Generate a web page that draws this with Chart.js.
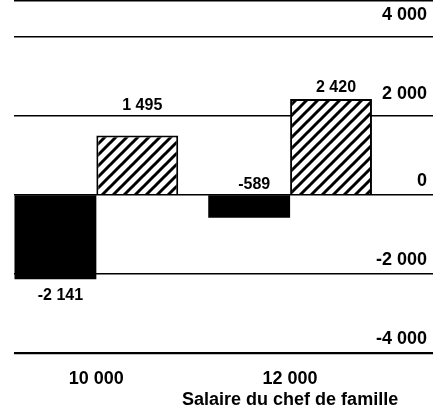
<!DOCTYPE html>
<html>
<head>
<meta charset="utf-8">
<script src="https://cdn.jsdelivr.net/npm/chart.js@4"></script>
<style>
  html, body { margin: 0; padding: 0; background: #fff; }
  #wrap { width: 440px; height: 417px; }
</style>
</head>
<body>
<div id="wrap"><canvas id="chart"></canvas></div>
<script>
// Data
const salaries = [10000, 12000];
const categories = ['10 000', '12 000'];
const axisTitle = 'Salaire du chef de famille';
const solidValues = [-2141, -589];
const hatchedValues = [1495, 2420];
const yTicks = [-4000, -2000, 0, 2000, 4000];
const yMin = -4000, yMax = 4900;

const FAMILY = "'Liberation Sans', Arial, sans-serif";

function fmt(n) {
    const s = Math.abs(n).toString().replace(/\B(?=(\d{3})+(?!\d))/g, ' ');
    return (n < 0 ? '-' : '') + s;
}

// diagonal "/" hatching
function hatchPattern() {
    const s = 11;
    const c = document.createElement('canvas');
    c.width = s; c.height = s;
    const g = c.getContext('2d');
    g.fillStyle = '#fff';
    g.fillRect(0, 0, s, s);
    g.strokeStyle = '#000';
    g.lineWidth = 3;
    g.beginPath();
    g.moveTo(-s / 2, s / 2); g.lineTo(s / 2, -s / 2);
    g.moveTo(0, s); g.lineTo(s, 0);
    g.moveTo(s / 2, s * 1.5); g.lineTo(s * 1.5, s / 2);
    g.stroke();
    return g.createPattern(c, 'repeat');
}

// y labels sit above their grid line, inside the plot
const yLabels = {
    id: 'yLabels',
    afterDraw(chart) {
        const { ctx, chartArea, scales: { y } } = chart;
        ctx.save();
        ctx.font = 'bold 18px ' + FAMILY;
        ctx.fillStyle = '#000';
        ctx.textAlign = 'right';
        ctx.textBaseline = 'middle';
        yTicks.forEach(v => {
            const off = v > 0 ? 22 : 14;
            ctx.fillText(fmt(v), chartArea.right - 6, y.getPixelForValue(v) - off);
        });
        ctx.restore();
    }
};

// value labels on the bars
const valueLabels = {
    id: 'valueLabels',
    afterDatasetsDraw(chart) {
        const { ctx, scales: { y } } = chart;
        ctx.save();
        ctx.font = 'bold 16px ' + FAMILY;
        ctx.fillStyle = '#000';
        ctx.textAlign = 'center';
        ctx.textBaseline = 'middle';
        chart.data.datasets.forEach((ds, i) => {
            chart.getDatasetMeta(i).data.forEach((bar, j) => {
                const v = ds.data[j].y;
                const top = Math.min(bar.y, bar.base);
                const bottom = Math.max(bar.y, bar.base);
                let ly;
                if (v < -1000) {
                    ly = bottom + 16;
                } else {
                    ly = top - 11;
                    yTicks.forEach(t => {
                        const gp = y.getPixelForValue(t);
                        if (gp < top && top - gp < 25) ly = gp - 10;
                    });
                }
                ctx.fillText(fmt(v), bar.x + 5, ly);
            });
        });
        ctx.restore();
    }
};

const ctx = document.getElementById('chart').getContext('2d');

new Chart(ctx, {
    type: 'bar',
    data: {
        datasets: [
            {
                data: salaries.map((x, i) => ({ x: x, y: solidValues[i] })),
                backgroundColor: '#000',
                borderWidth: 0
            },
            {
                data: salaries.map((x, i) => ({ x: x, y: hatchedValues[i] })),
                backgroundColor: hatchPattern(),
                borderColor: '#000',
                borderWidth: 2
            }
        ]
    },
    options: {
        responsive: true,
        maintainAspectRatio: false,
        animation: false,
        categoryPercentage: 0.845,
        barPercentage: 1,
        layout: { padding: { left: 14, right: 7, top: 1, bottom: -9 } },
        plugins: { legend: { display: false }, tooltip: { enabled: false } },
        scales: {
            x: {
                type: 'linear',
                offset: false,
                min: 9150,
                max: 13475,
                grid: { display: false, drawTicks: false },
                border: { display: false },
                afterBuildTicks: s => { s.ticks = salaries.map(v => ({ value: v })); },
                ticks: {
                    padding: 16,
                    color: '#000',
                    autoSkip: false,
                    maxRotation: 0,
                    font: { family: FAMILY, size: 18, weight: 'bold', lineHeight: 1.15 },
                    callback: v => {
                        const i = salaries.indexOf(v);
                        return i === salaries.length - 1 ? [categories[i], axisTitle] : categories[i];
                    }
                }
            },
            y: {
                position: 'right',
                min: yMin,
                max: yMax,
                afterBuildTicks: s => { s.ticks = yTicks.concat([yMax]).map(v => ({ value: v })); },
                grid: {
                    color: '#000',
                    lineWidth: c => (c.tick && c.tick.value === yMin ? 2.2 : 1.4),
                    drawTicks: false
                },
                border: { display: false },
                ticks: { display: false }
            }
        }
    },
    plugins: [yLabels, valueLabels]
});
</script>
</body>
</html>
